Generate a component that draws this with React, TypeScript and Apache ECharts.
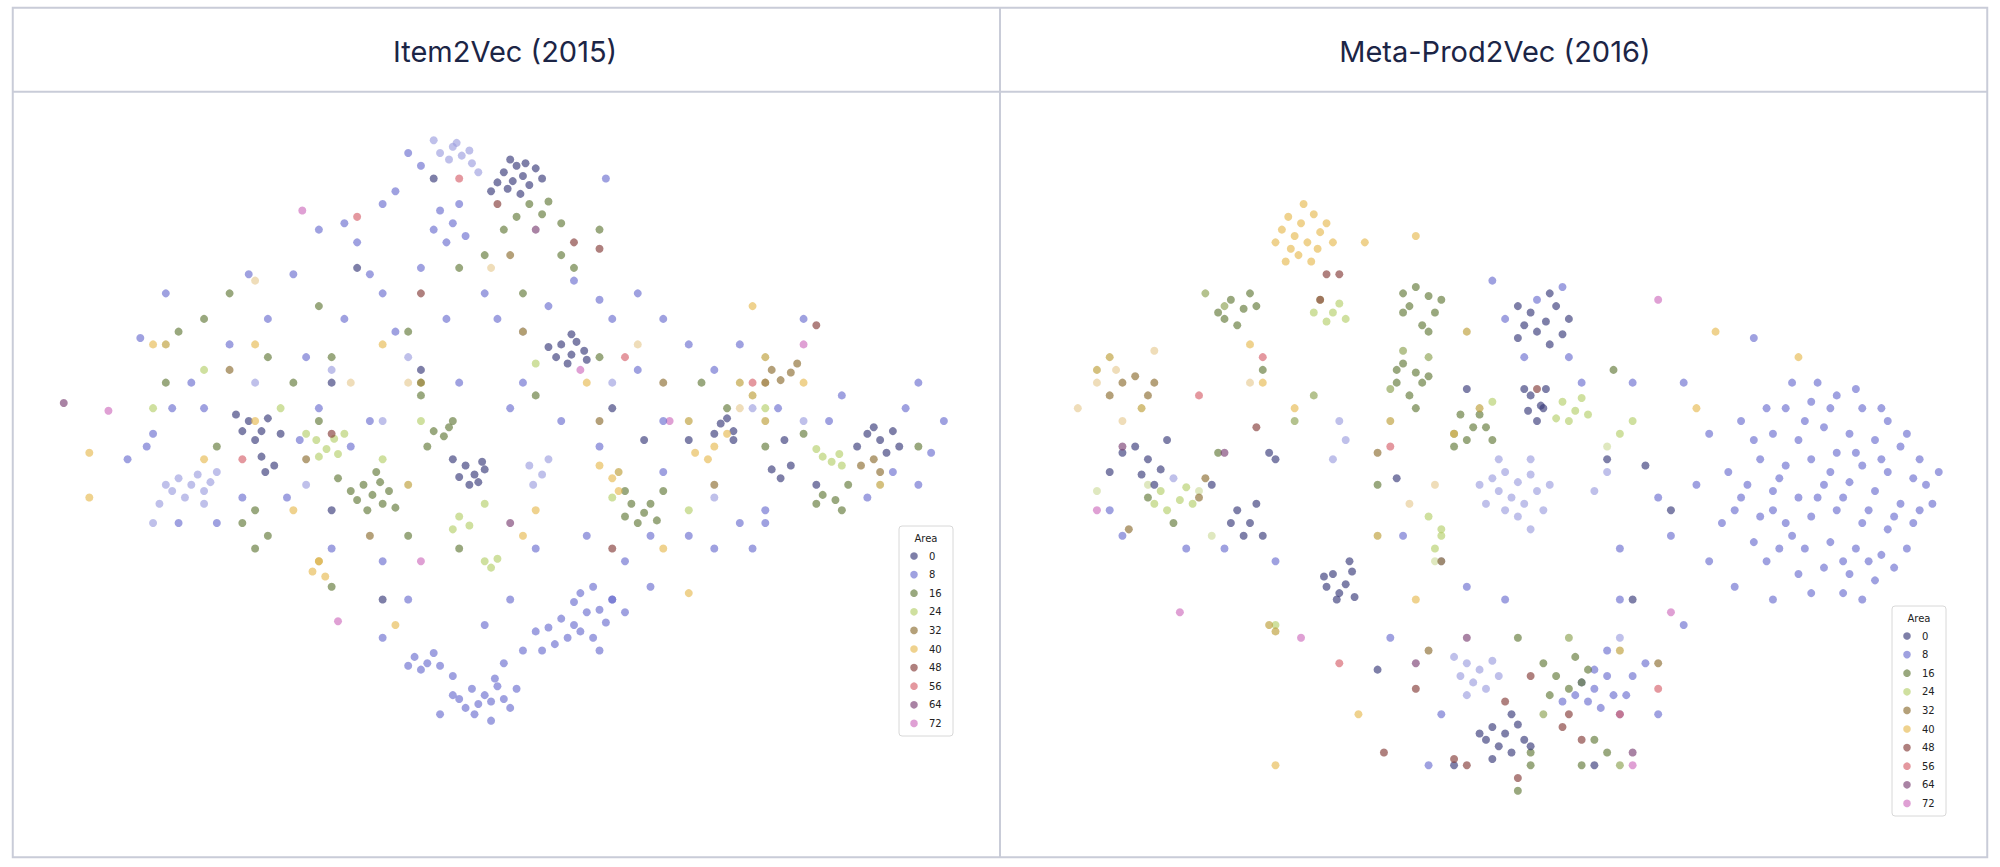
import { useEffect, useRef } from 'react';
import * as echarts from 'echarts';

// tab20b colour map, one colour per 4 "Area" units
const palette = [
    '#393b79', '#5254a3', '#6b6ecf', '#9c9ede', '#637939', '#8ca252', '#b5cf6b', '#cedb9c',
    '#8c6d31', '#bd9e39', '#e7ba52', '#e7cb94', '#843c39', '#ad494a', '#d6616b', '#e7969c',
    '#7b4173', '#a55194', '#ce6dbd', '#de9ed6',
];
const legendLabels = ['0', '8', '16', '24', '32', '40', '48', '56', '64', '72'];

// Item2Vec points, flat [x, y, x, y, ...] per area value
const leftPoints: Record<number, number[]> = {
    0: [395,135,402,142,410,138,398,148,405,130,415,145,390,143,420,132,408,152,440,270,448,278,452,268,436,280,445,285,458,275,430,272,
        195,330,205,338,190,338,210,328,200,345,205,358,215,365,208,370,365,365,372,372,378,362,368,380,360,374,375,378,
        565,332,575,338,570,328,560,340,680,340,690,345,700,338,672,350,695,355,605,368,612,375,
        330,290,260,300,480,320,540,345,300,470,505,345,280,210,260,400,340,140,640,380,615,345],
    8: [370,540,380,545,390,538,375,552,385,550,395,548,360,548,365,555,400,555,372,560,388,532,355,545,
        325,515,335,520,340,512,330,525,345,522,320,522,440,485,450,490,460,480,455,495,445,500,470,478,430,492,480,470,465,500,435,505,475,488,420,495,
        455,465,465,460,450,472,345,165,355,175,360,160,340,180,350,190,365,185,
        110,265,130,230,160,320,240,280,270,250,300,230,330,210,380,230,410,260,470,235,520,250,580,270,630,250,720,300,740,330,
        560,430,590,430,510,420,420,430,380,490,320,470,300,500,250,320,210,250,180,270,150,300,120,340,100,360,140,410,260,430,
        300,440,360,300,400,320,410,300,470,350,520,370,600,400,660,310,700,370,720,380,250,180,270,175,320,120,330,130,475,140,
        480,250,500,290,230,215,195,215],
    12: [355,115,362,122,368,118,352,125,370,128,358,112,345,120,140,375,150,380,160,385,145,390,155,372,135,385,165,378,130,380,
        415,365,425,372,418,380,320,280,300,330,240,380,480,300,590,320,630,330,200,300,120,410,260,290,560,390],
    16: [285,380,292,388,298,378,280,392,300,395,288,400,275,385,305,385,340,338,348,342,352,335,495,395,505,402,510,395,490,405,500,410,515,408,
        415,160,425,168,430,158,645,388,655,392,660,400,230,300,250,240,320,260,380,200,440,200,360,430,200,430,190,410,170,350,
        130,300,160,250,250,330,420,310,470,280,550,300,600,350,720,350,320,420,260,460,330,310],
    24: [248,345,256,352,262,344,250,358,265,356,360,405,368,412,380,440,390,438,385,445,645,358,652,362,658,356,
        220,320,160,290,300,360,330,300,480,390,600,320,120,320,540,400],
    32: [605,290,612,298,620,292,690,370,685,360,520,300,330,300,240,360,400,200,180,290,560,380,470,330,290,420],
    36: [580,300,590,310,600,280,690,380,485,370,250,440,320,380,410,260,540,330,130,270,600,330],
    40: [560,350,555,360,480,375,250,440,245,448,255,452,520,430,460,300,200,330,160,360,300,270,590,240,630,300,540,465,420,400,230,400,70,390,70,355,120,270],
    44: [320,300,385,210,500,270,600,300,580,320,275,300,200,220],
    48: [450,190,470,195,390,160,260,340,480,430,330,230,640,255],
    56: [360,140,590,300,490,280,190,360,280,170],
    64: [50,316,400,410,420,180],
    72: [237,165,265,487,330,440,455,290,525,330,630,270,85,322],
};

// more Item2Vec points read from the denser parts
const leftExtra: Record<number, number[]> = {
    0: [400,125,412,128,425,140,385,150,448,262,460,282,185,325,220,340,380,368,355,360,685,335,705,350,620,365,575,345],
    8: [310,150,300,160,280,190,290,215,310,260,350,250,390,250,430,240,450,220,500,230,540,270,560,290,520,330,440,330,
        460,420,490,440,510,460,400,470,410,510,395,520,425,510,355,530,345,560,385,565,405,540,225,390,190,390,170,410,
        135,320,115,350,235,345,275,350,290,330,610,320,650,330,710,320,730,355,680,390,600,410,540,420,580,410,480,470,490,480,470,510],
    12: [160,395,125,395,170,370,340,110,375,135,430,360],
    16: [200,400,210,420,265,375,295,370,310,398,355,330,335,350,520,385,490,385,395,180,405,170,440,175,450,210,470,180,
        410,230,360,210,260,280,210,280,180,230,140,260,570,320,630,340,665,380,640,395],
    24: [240,340,270,340,380,395,355,415,660,365,640,352,330,330,420,285],
    32: [600,300,625,285,675,365],
    40: [570,340,545,355,485,385,470,365,410,420,310,490,200,270],
};

// Meta-Prod2Vec points
const rightPoints: Record<number, number[]> = {
    0: [1200,245,1212,252,1220,240,1205,260,1195,255,1225,262,1215,270,1200,310,1208,318,1212,305,1198,322,1205,330,
        1045,450,1055,458,1060,448,1050,465,1040,460,1048,470,1170,570,1180,575,1190,568,1175,585,1185,590,1165,580,1195,580,
        900,360,910,368,895,372,970,400,980,410,995,355,1310,400,1260,360,1280,470,985,395,1000,360,990,420,950,380,880,355,
        870,370,915,345,1150,305,1095,375,1290,365,1250,600,1140,600,1080,525],
    8: [1400,320,1420,315,1440,310,1460,320,1480,330,1390,340,1410,345,1430,335,1450,340,1470,345,1490,350,1380,360,1400,365,
        1420,360,1440,355,1460,365,1480,370,1500,375,1370,380,1390,385,1410,390,1430,380,1450,378,1470,385,1490,395,1510,380,
        1360,400,1380,405,1400,410,1420,405,1440,400,1460,410,1480,415,1500,410,1375,425,1395,430,1415,430,1435,425,1455,430,
        1475,435,1495,430,1410,450,1430,445,1450,450,1470,455,1425,300,1445,465,1390,470,1350,410,1365,330,1520,370,1515,395,
        1240,535,1250,540,1260,530,1245,550,1255,555,1265,545,1235,545,1270,560,1280,530,1260,510,
        1230,280,1240,300,1170,220,1180,250,1300,390,1310,420,1320,300,1280,300,1270,430,1150,460,1180,470,1090,500,1000,440,
        960,430,930,430,880,420,870,400,1100,420,1290,520,1300,560,1130,560,1120,600,1320,490,1375,265,1360,460,1340,340],
    12: [1180,370,1190,378,1200,372,1185,390,1195,395,1175,385,1205,385,1170,375,1210,400,1190,405,1165,395,1200,360,
        1150,520,1160,525,1170,518,1155,535,1145,530,1165,540,1050,330,1055,345,1045,360,1260,370,1250,385,920,375,1130,440,1270,500],
    16: [965,235,975,242,960,250,980,230,970,255,1110,225,1120,232,1105,240,1125,245,1115,255,1100,230,1100,285,1110,292,1095,300,
        1115,300,1105,310,1145,325,1155,335,1160,325,1140,340,1220,530,1230,540,1240,535,1235,515,1215,545,1200,600,1190,500,
        1260,590,1250,580,1200,590,955,355,920,410,900,390,1140,350,1170,345,1080,380,990,290,1265,290,1240,600,1190,620],
    20: [1100,275,1090,305,1120,280,960,240,945,230,1015,330,1210,560,1270,600,1230,500,1030,310],
    24: [1035,235,1045,245,1040,252,1050,238,1225,315,1235,322,1240,312,1220,328,910,385,925,392,930,382,915,400,
        1120,405,1130,415,1125,430,1270,340,1280,330,1000,490,1170,315],
    28: [900,380,940,385,950,420,1125,440,1260,350,860,385],
    32: [880,300,890,295,870,310,900,310,905,300,940,390,945,375,1130,440,1080,355,1120,510,1300,520,885,415],
    36: [870,280,860,290,895,320,1090,330,1080,420,1160,320,1000,495,995,490,1150,260,1270,510],
    40: [1010,170,1020,175,1030,168,1015,185,1025,190,1005,180,1035,182,1018,200,1028,205,1012,195,1040,175,1000,190,
        990,300,1015,320,1110,185,1070,190,1140,340,1345,260,1410,280,1330,320,1110,470,1065,560,1000,600,980,270],
    44: [860,300,845,320,875,290,880,330,905,275,980,300,1125,380,1105,395],
    48: [1040,215,1050,215,1035,235,985,335,1140,595,1150,600,1225,570,1240,580,1110,540,1085,590,1200,530,1205,305],
    56: [940,310,990,280,1090,350,1050,520,1270,560,1300,540],
    64: [880,350,1150,500,960,355,1280,590,1110,520],
    72: [1300,235,1310,480,860,400,925,480,1280,600,1020,500],
};

const rightExtra: Record<number, number[]> = {
    0: [1190,240,1230,250,1215,230,1190,265,1210,320,1195,305,1058,440,1038,452,1062,468,1160,575,1185,560,1200,585,1170,595,905,380,890,350,975,420,965,410],
    8: [1385,320,1405,300,1455,305,1475,320,1495,340,1505,360,1375,345,1355,370,1365,390,1390,400,1425,390,1445,390,1465,400,
        1485,405,1505,400,1385,440,1405,420,1445,440,1465,440,1485,445,1420,465,1460,470,1435,320,1415,330,1455,355,1475,360,
        1395,375,1435,370,1250,525,1275,545,1225,550,1205,235,1225,225,1195,280,1270,470,1340,440,1330,380],
    12: [1175,360,1215,380,1180,400,1160,380,1200,415,1140,515,1175,530,1150,545],
    16: [955,245,985,240,1100,245,1130,235,1120,260,1095,290,1120,295,1110,320,1150,345,1165,335,1210,520,1245,525],
    24: [1030,245,1055,250,1230,330,1245,325,905,395,935,395,1130,420],
    40: [1022,160,1033,195,1008,205,1045,190],
    48: [1180,550,1230,560,1190,610],
};

const S = 2000 / 1568;

function toData(...sets: Record<number, number[]>[]) {
    const out: number[][] = [];
    sets.forEach((points) => {
        Object.keys(points).forEach((k) => {
            const arr = points[Number(k)];
            for (let i = 0; i + 1 < arr.length; i += 2) out.push([arr[i], arr[i + 1], Number(k)]);
        });
    });
    return out;
}

function legendBox(x: number, y: number) {
    const children: any[] = [
        { type: 'rect', shape: { x, y, width: 54, height: 210, r: 3 }, style: { fill: '#fff', stroke: '#d8d8d8', lineWidth: 1 } },
        { type: 'text', style: { x: x + 27, y: y + 12, text: 'Area', fontSize: 10, fill: '#222', align: 'center', verticalAlign: 'middle', fontFamily: 'DejaVu Sans' } },
    ];
    legendLabels.forEach((lab, i) => {
        const cy = y + 30 + i * 18.6;
        children.push({ type: 'circle', shape: { cx: x + 15, cy, r: 3.8 }, style: { fill: palette[i * 2], opacity: 0.65 } });
        children.push({ type: 'text', style: { x: x + 30, y: cy, text: lab, fontSize: 10, fill: '#222', verticalAlign: 'middle', fontFamily: 'DejaVu Sans' } });
    });
    return { type: 'group', children };
}

export default function App() {
    const chartRef = useRef<HTMLDivElement>(null);

    useEffect(() => {
        if (!chartRef.current) return;
        const chart = echarts.init(chartRef.current, null, { renderer: 'svg' });

        const axisX = (min: number, max: number, idx: number) => ({
            type: 'value' as const, gridIndex: idx, min, max, show: false,
        });
        const axisY = (idx: number) => ({
            type: 'value' as const, gridIndex: idx, min: 72, max: 672, inverse: true, show: false,
        });
        const seriesStyle = {
            type: 'scatter' as const,
            symbolSize: 8,
            itemStyle: {
                color: (p: any) => palette[Math.floor(p.value[2] / 4)],
                opacity: 0.65,
            },
        };

        chart.setOption({
            animation: false,
            backgroundColor: '#fff',
            grid: [
                { left: 10 * S, width: 773 * S, top: 72 * S, height: 600 * S },
                { left: 785 * S, width: 773 * S, top: 72 * S, height: 600 * S },
            ],
            xAxis: [axisX(10, 783, 0), axisX(785, 1558, 1)],
            yAxis: [axisY(0), axisY(1)],
            series: [
                { ...seriesStyle, xAxisIndex: 0, yAxisIndex: 0, data: toData(leftPoints, leftExtra) },
                { ...seriesStyle, xAxisIndex: 1, yAxisIndex: 1, data: toData(rightPoints, rightExtra) },
            ],
            graphic: [
                { type: 'rect', shape: { x: 10 * S, y: 6 * S, width: 1548 * S, height: 666 * S }, style: { fill: 'none', stroke: '#c9ccd8', lineWidth: 2 } },
                { type: 'line', shape: { x1: 10 * S, y1: 72 * S, x2: 1558 * S, y2: 72 * S }, style: { stroke: '#c9ccd8', lineWidth: 2 } },
                { type: 'line', shape: { x1: 784 * S, y1: 6 * S, x2: 784 * S, y2: 672 * S }, style: { stroke: '#c9ccd8', lineWidth: 2 } },
                { type: 'text', style: { x: 396 * S, y: 40 * S, text: 'Item2Vec (2015)', fontSize: 29, fill: '#1c2546', align: 'center', verticalAlign: 'middle', fontFamily: 'Inter' } },
                { type: 'text', style: { x: 1172 * S, y: 40 * S, text: 'Meta-Prod2Vec (2016)', fontSize: 29, fill: '#1c2546', align: 'center', verticalAlign: 'middle', fontFamily: 'Inter' } },
                legendBox(899, 526),
                legendBox(1892, 606),
            ],
        });

        return () => chart.dispose();
    }, []);

    return (
        <div style={{ position: 'fixed', left: 0, top: 0, width: 2000, height: 867, background: '#fff' }}>
            <div ref={chartRef} style={{ width: 2000, height: 867 }} />
        </div>
    );
}
